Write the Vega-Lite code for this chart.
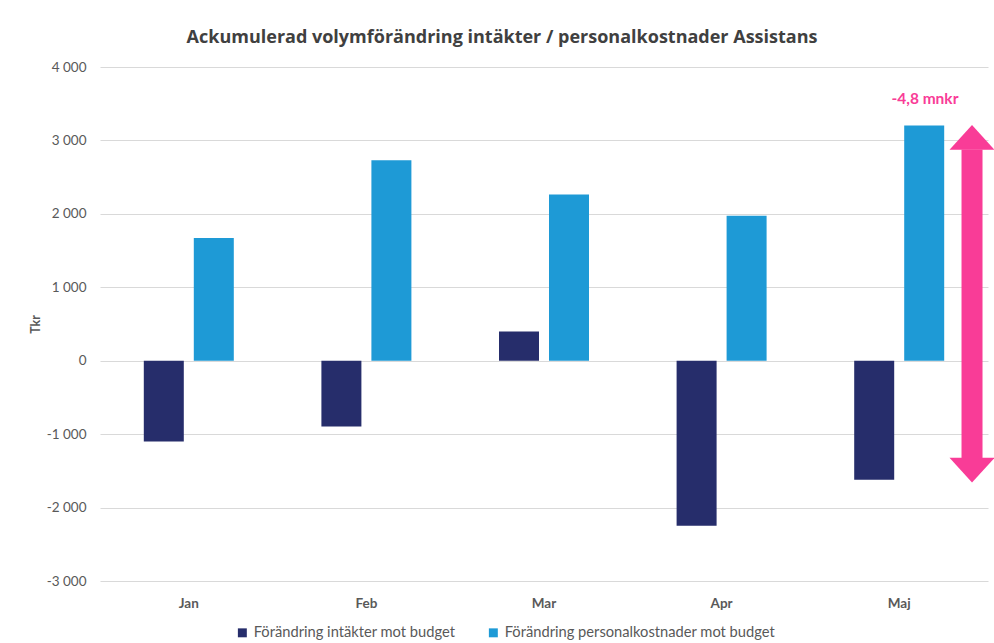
{
  "$schema": "https://vega.github.io/schema/vega-lite/v6.json",
  "width": 888,
  "height": 514,
  "autosize": {"type": "none"},
  "padding": {"left": 100, "top": 67, "right": 6, "bottom": 62},
  "background": "white",
  "title": {
    "text": "Ackumulerad volymförändring intäkter / personalkostnader Assistans",
    "font": "Open Sans",
    "fontSize": 18,
    "fontWeight": "bold",
    "color": "#404040",
    "anchor": "middle",
    "dx": -42,
    "offset": 13
  },
  "datasets": {
    "bars": [
      {"month": "Jan", "series": "Förändring intäkter mot budget", "value": -1099},
      {"month": "Jan", "series": "Förändring personalkostnader mot budget", "value": 1672},
      {"month": "Feb", "series": "Förändring intäkter mot budget", "value": -895},
      {"month": "Feb", "series": "Förändring personalkostnader mot budget", "value": 2729},
      {"month": "Mar", "series": "Förändring intäkter mot budget", "value": 399},
      {"month": "Mar", "series": "Förändring personalkostnader mot budget", "value": 2262},
      {"month": "Apr", "series": "Förändring intäkter mot budget", "value": -2248},
      {"month": "Apr", "series": "Förändring personalkostnader mot budget", "value": 1975},
      {"month": "Maj", "series": "Förändring intäkter mot budget", "value": -1621},
      {"month": "Maj", "series": "Förändring personalkostnader mot budget", "value": 3202}
    ],
    "arrow": [
      {"month": "Maj", "top": 3210, "bottom": -1660, "shaft_top": 2875, "shaft_bottom": -1325, "label_y": 3560, "label": "-4,8 mnkr"}
    ]
  },
  "layer": [
    {
      "data": {"name": "bars"},
      "mark": {"type": "bar"},
      "encoding": {
        "x": {
          "field": "month",
          "type": "nominal",
          "sort": ["Jan", "Feb", "Mar", "Apr", "Maj"],
          "scale": {"domain": ["Jan", "Feb", "Mar", "Apr", "Maj"], "paddingInner": 0, "paddingOuter": 0},
          "axis": {
            "title": null,
            "domain": false,
            "ticks": false,
            "labelAngle": 0,
            "labelPadding": 15,
            "labelFont": "Lato",
            "labelFontSize": 13.5,
            "labelFontWeight": "bold",
            "labelColor": "#595959"
          }
        },
        "xOffset": {
          "field": "series",
          "type": "nominal",
          "scale": {"paddingInner": 0.2, "paddingOuter": 0.876}
        },
        "y": {
          "field": "value",
          "type": "quantitative",
          "scale": {"domain": [-3000, 4000], "nice": false},
          "axis": {
            "values": [-3000, -2000, -1000, 0, 1000, 2000, 3000, 4000],
            "labelExpr": "replace(replace(format(datum.value, ','), ',', ' '), '−', '-')",
            "title": "Tkr",
            "titleFont": "Lato",
            "titleFontSize": 12.5,
            "titleFontWeight": "bold",
            "titleColor": "#595959",
            "titleAngle": -90,
            "titleX": -65,
            "titleY": 257,
            "titleAlign": "center",
            "titleBaseline": "middle",
            "domain": false,
            "ticks": false,
            "labelPadding": 14,
            "labelFont": "Lato",
            "labelFontSize": 13.5,
            "labelColor": "#595959",
            "grid": true,
            "gridColor": "#d9d9d9",
            "gridWidth": 1
          }
        },
        "color": {
          "field": "series",
          "type": "nominal",
          "scale": {"range": ["#262D6B", "#1E9AD6"]},
          "legend": {
            "title": null,
            "orient": "none",
            "direction": "horizontal",
            "legendX": 135,
            "legendY": 558,
            "symbolType": "square",
            "symbolSize": 80,
            "symbolStrokeWidth": 0,
            "labelFont": "Lato",
            "labelFontSize": 14.7,
            "labelColor": "#595959",
            "labelLimit": 0,
            "columnPadding": 30,
            "labelOffset": 4
          }
        }
      }
    },
    {
      "data": {"name": "arrow"},
      "mark": {"type": "rule", "color": "#F93C97", "strokeWidth": 21, "strokeCap": "butt"},
      "encoding": {
        "x": {"field": "month", "type": "nominal", "sort": ["Jan", "Feb", "Mar", "Apr", "Maj"], "bandPosition": 0.91},
        "y": {"field": "shaft_top", "type": "quantitative"},
        "y2": {"field": "shaft_bottom"}
      }
    },
    {
      "data": {"name": "arrow"},
      "mark": {"type": "point", "filled": true, "color": "#F93C97", "opacity": 1, "size": 2025, "shape": "M0,0L-1,1.1L1,1.1Z"},
      "encoding": {
        "x": {"field": "month", "type": "nominal", "sort": ["Jan", "Feb", "Mar", "Apr", "Maj"], "bandPosition": 0.91},
        "y": {"field": "top", "type": "quantitative"}
      }
    },
    {
      "data": {"name": "arrow"},
      "mark": {"type": "point", "filled": true, "color": "#F93C97", "opacity": 1, "size": 2025, "shape": "M0,0L-1,-1.1L1,-1.1Z"},
      "encoding": {
        "x": {"field": "month", "type": "nominal", "sort": ["Jan", "Feb", "Mar", "Apr", "Maj"], "bandPosition": 0.91},
        "y": {"field": "bottom", "type": "quantitative"}
      }
    },
    {
      "data": {"name": "arrow"},
      "mark": {"type": "text", "color": "#F93C97", "font": "Lato", "fontSize": 15.5, "fontWeight": "bold", "align": "center", "baseline": "middle"},
      "encoding": {
        "x": {"field": "month", "type": "nominal", "sort": ["Jan", "Feb", "Mar", "Apr", "Maj"], "bandPosition": 0.645},
        "y": {"field": "label_y", "type": "quantitative"},
        "text": {"field": "label"}
      }
    }
  ],
  "config": {
    "view": {"stroke": null}
  }
}
